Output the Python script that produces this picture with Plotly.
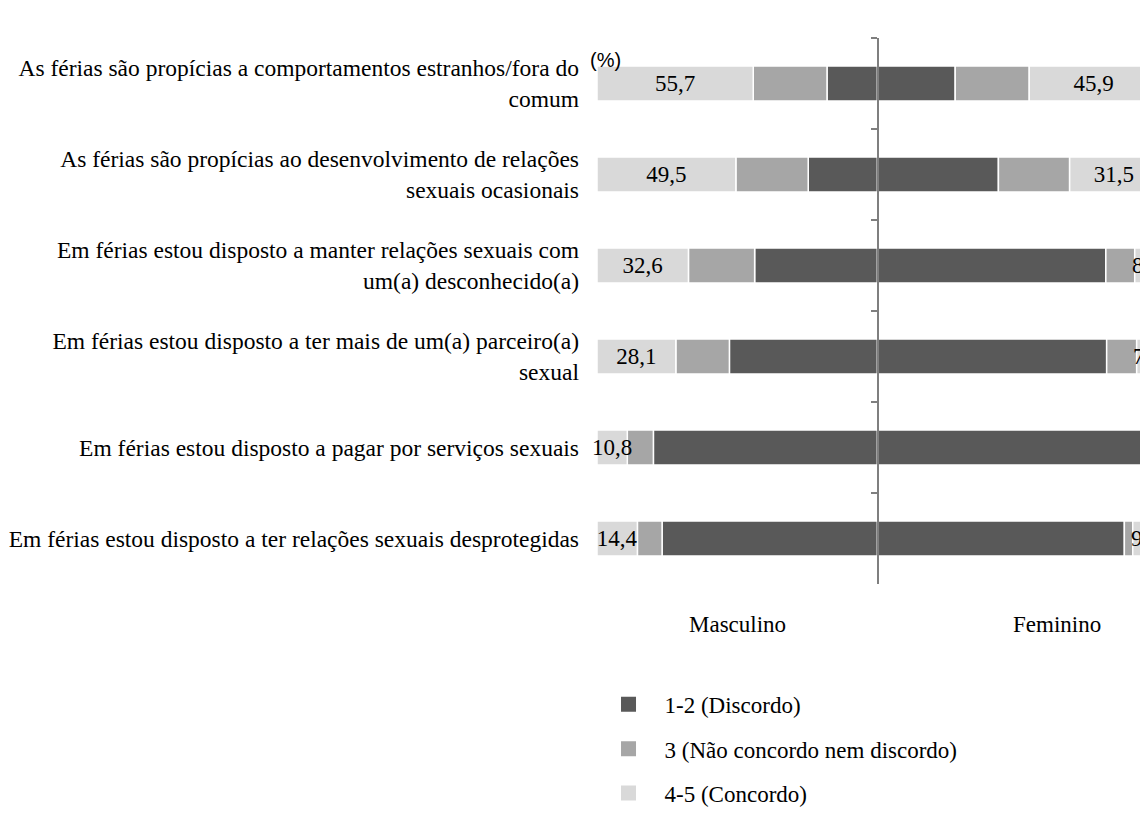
import plotly.graph_objects as go

statements = [
    "As férias são propícias a comportamentos estranhos/fora do<br>comum",
    "As férias são propícias ao desenvolvimento de relações<br>sexuais ocasionais",
    "Em férias estou disposto a manter relações sexuais com<br>um(a) desconhecido(a)",
    "Em férias estou disposto a ter mais de um(a) parceiro(a)<br>sexual",
    "Em férias estou disposto a pagar por serviços sexuais",
    "Em férias estou disposto a ter relações sexuais desprotegidas",
]

# Masculino (%)
masc_discordo = [18.0, 24.7, 43.8, 52.8, 79.9, 76.8]
masc_neutro = [26.3, 25.8, 23.6, 19.1, 9.3, 8.8]
masc_concordo = [55.7, 49.5, 32.6, 28.1, 10.8, 14.4]

# Feminino (%)
fem_discordo = [27.7, 43.1, 81.4, 81.7, 96.7, 88.0]
fem_neutro = [26.4, 25.4, 10.3, 10.7, 1.3, 3.0]
fem_concordo = [45.9, 31.5, 8.3, 7.6, 2.0, 9.0]

groups = ["Masculino", "Feminino"]
legend_names = ["1-2 (Discordo)", "3 (Não concordo nem discordo)", "4-5 (Concordo)"]
axis_unit = "(%)"

DARK, MID, LIGHT = "#595959", "#A6A6A6", "#D9D9D9"
COLORS = [DARK, MID, LIGHT]
SERIF = "Times New Roman, Liberation Serif, Tinos, serif"
FS = 23


def fmt(v):
    return f"{v:.1f}".replace(".", ",")


fig = go.Figure()


def add(vals, sign, color, label):
    fig.add_trace(go.Bar(
        y=statements,
        x=[sign * v for v in vals],
        orientation="h",
        marker=dict(color=color, line=dict(color="white", width=1.5)),
        showlegend=False,
        text=[fmt(v) for v in vals] if label else None,
        textposition="inside" if label else "none",
        insidetextanchor="middle",
        constraintext="none",
        textangle=0,
        cliponaxis=False,
        textfont=dict(family=SERIF, size=FS, color="black"),
        hoverinfo="skip",
    ))


# male side (negative, stacked outward from center)
add(masc_discordo, -1, DARK, False)
add(masc_neutro, -1, MID, False)
add(masc_concordo, -1, LIGHT, True)
# female side
add(fem_discordo, 1, DARK, False)
add(fem_neutro, 1, MID, False)
add(fem_concordo, 1, LIGHT, True)

# legend entries
for name, col in zip(legend_names, COLORS):
    fig.add_trace(go.Scatter(
        x=[None], y=[None], mode="markers", name=name, legendgroup=name,
        marker=dict(symbol="square", size=15, color=col),
    ))

# invisible trace to drive the central category axis
fig.add_trace(go.Scatter(
    x=[0] * len(statements), y=statements, yaxis="y2", mode="markers",
    marker=dict(opacity=0), showlegend=False, hoverinfo="skip",
))

fig.update_layout(
    width=1150, height=813,
    margin=dict(l=589, r=0, t=30, b=237),
    barmode="relative",
    bargap=0.615,
    plot_bgcolor="white",
    paper_bgcolor="white",
    font=dict(family=SERIF, size=FS, color="black"),
    xaxis=dict(range=[-100, 100], showgrid=False, zeroline=False,
               showticklabels=False, ticks="", showline=False, fixedrange=True),
    yaxis=dict(type="category", categoryarray=statements, range=[5.5, -0.5],
               showgrid=False, showline=False, ticks="", ticklabelstandoff=17,
               tickfont=dict(family=SERIF, size=23.5, color="black")),
    yaxis2=dict(type="category", categoryarray=statements, range=[5.5, -0.5],
                overlaying="y", anchor="free", position=0.5, side="left",
                showline=True, linecolor="#7F7F7F", linewidth=2,
                ticks="outside", tickson="boundaries", ticklen=6,
                tickcolor="#7F7F7F", tickwidth=2,
                showticklabels=False, showgrid=False),
    legend=dict(x=-0.008, y=-0.181, xanchor="left", yanchor="top",
                orientation="v", tracegroupgap=11.5, itemwidth=62,
                font=dict(family=SERIF, size=FS, color="black"),
                bgcolor="rgba(0,0,0,0)"),
    showlegend=True,
    annotations=[
        dict(text=groups[0], x=-50, y=-0.075, xref="x", yref="paper",
             showarrow=False, xanchor="center", yanchor="middle",
             font=dict(family=SERIF, size=FS, color="black")),
        dict(text=groups[1], x=64, y=-0.075, xref="x", yref="paper",
             showarrow=False, xanchor="center", yanchor="middle",
             font=dict(family=SERIF, size=FS, color="black")),
        dict(text=axis_unit, x=0.016, y=0.96, xref="paper", yref="paper",
             showarrow=False, xanchor="center", yanchor="middle",
             font=dict(family="Liberation Sans, Arial, sans-serif", size=20, color="black")),
    ],
)

fig.write_html("out.html")
